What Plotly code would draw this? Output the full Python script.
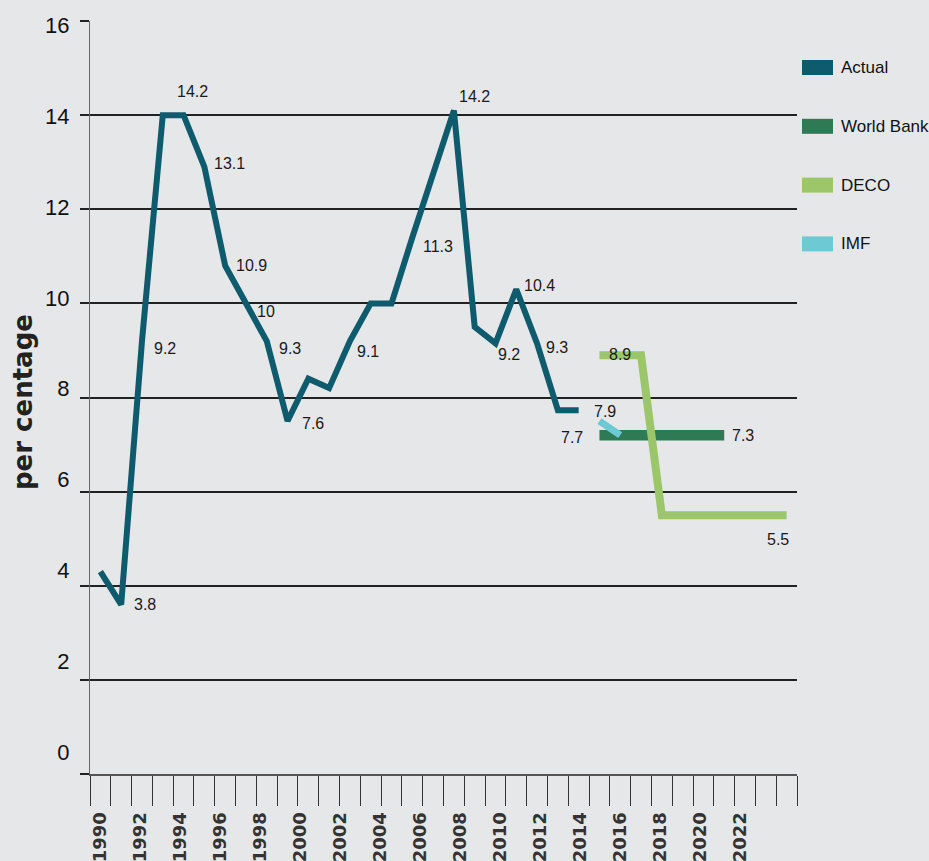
import plotly.graph_objects as go

# ---------------- data ----------------
years_actual = [1990, 1991, 1992, 1993, 1994, 1995, 1996, 1997, 1998, 1999, 2000, 2001,
                2002, 2003, 2004, 2005, 2006, 2007, 2008, 2009, 2010, 2011, 2012, 2013]
actual = [4.3, 3.6, 9.2, 14.0, 14.0, 12.9, 10.8, 10.0, 9.2, 7.5, 8.4, 8.2,
          9.2, 10.0, 10.0, 11.4, 12.8, 14.1, 9.5, 9.15, 10.3, 9.15, 7.73, 7.73]

years_wb = [2014, 2015, 2016, 2017, 2018, 2019, 2020]
world_bank = [7.2, 7.2, 7.2, 7.2, 7.2, 7.2, 7.2]

years_deco = [2014, 2015, 2016, 2017, 2018, 2019, 2020, 2021, 2022, 2023]
deco = [8.9, 8.9, 8.9, 5.5, 5.5, 5.5, 5.5, 5.5, 5.5, 5.5]

years_imf = [2014, 2015]
imf = [7.5, 7.2]

series_names = ["Actual", "World Bank", "DECO", "IMF"]

# printed value labels: (text, series, year)
label_texts = ["3.8", "9.2", "14.2", "13.1", "10.9", "10", "9.3", "7.6", "9.1", "11.3",
               "14.2", "9.2", "10.4", "9.3", "7.7", "7.9", "8.9", "7.3", "5.5"]
label_series = ["Actual"] * 15 + ["IMF", "DECO", "World Bank", "DECO"]
label_years = [1991, 1992, 1994, 1995, 1996, 1997, 1998, 1999, 2002, 2005,
               2007, 2009, 2010, 2011, 2013, 2014, 2015, 2020, 2023]

y_tick_values = [0, 2, 4, 6, 8, 10, 12, 14, 16]
x_label_years = [1990, 1992, 1994, 1996, 1998, 2000, 2002, 2004, 2006, 2008,
                 2010, 2012, 2014, 2016, 2018, 2020, 2022]

# ---------------- styles ----------------
# label offsets in pixels (right, down)
label_dx = [24, 23, 9, 25, 26, 20, 23, 25, 18, 26, 21, 14, 23, 20, -7, 6, 0, 19, -9]
label_dy = [0, 7, -24, -3, 0, 8, 7, 2, 10, 9, -14, 11, -4, 4, 27, -10, -1, 0, 24]

colors = {"Actual": "#0F5B6E", "World Bank": "#2E7A55", "DECO": "#9BC66A", "IMF": "#6DC9D3"}
widths = {"Actual": 6, "World Bank": 10.5, "DECO": 8, "IMF": 7}
BG = "#E6E7E9"
NARROW = "Liberation Sans, Arial, sans-serif"
WIDE_BOLD = "DejaVu Sans, Liberation Sans, sans-serif"

W, H = 929, 861
L, R, T, B = 90, 132, 21, 87
PW, PH = W - L - R, H - T - B


def px_x(p):
    return (p - L) / PW


def px_y(p):
    return (H - B - p) / PH


series_data = {
    "Actual": (years_actual, actual),
    "World Bank": (years_wb, world_bank),
    "DECO": (years_deco, deco),
    "IMF": (years_imf, imf),
}

fig = go.Figure()
for name in series_names:
    xs, ys = series_data[name]
    fig.add_trace(go.Scatter(
        x=xs, y=ys, mode="lines", name=name,
        line=dict(color=colors[name], width=widths[name]),
        showlegend=False, hoverinfo="x+y",
    ))

# dummy trace for overlay label axes
fig.add_trace(go.Scatter(x=[None], y=[None], xaxis="x2", yaxis="y2",
                         showlegend=False, hoverinfo="skip"))

annotations = []
for txt, s, yr, dx, dy in zip(label_texts, label_series, label_years, label_dx, label_dy):
    xs, ys = series_data[s]
    val = ys[xs.index(yr)]
    annotations.append(dict(
        x=yr, y=val, xref="x", yref="y", text=txt, showarrow=False,
        xanchor="center", yanchor="middle", xshift=dx, yshift=-dy,
        font=dict(family=NARROW, size=16, color="#1a1a1a"),
    ))

# y axis title
annotations.append(dict(
    x=px_x(23), y=px_y(402), xref="paper", yref="paper", text="per centage",
    textangle=-90, showarrow=False, xanchor="center", yanchor="middle",
    font=dict(family=WIDE_BOLD, size=26, color="#222222", weight="bold"),
))

# manual legend
shapes = []
for i, name in enumerate(series_names):
    cy = 67.5 + 58.8 * i
    shapes.append(dict(
        type="rect", xref="paper", yref="paper",
        x0=px_x(802), x1=px_x(833), y0=px_y(cy + 7.5), y1=px_y(cy - 7.5),
        fillcolor=colors[name], line=dict(width=0), layer="above",
    ))
    annotations.append(dict(
        x=px_x(839), y=px_y(cy), xref="paper", yref="paper", text=name,
        showarrow=False, xanchor="left", yanchor="middle",
        font=dict(family=NARROW, size=17, color="#111111"),
    ))

fig.update_layout(
    width=W, height=H,
    margin=dict(l=L, r=R, t=T, b=B, pad=0, autoexpand=False),
    paper_bgcolor=BG, plot_bgcolor=BG,
    showlegend=False,
    annotations=annotations,
    shapes=shapes,
    xaxis=dict(
        range=[1989.5, 2023.5], tickmode="array",
        tickvals=[1989.5 + i for i in range(35)],
        ticks="outside", ticklen=30, tickwidth=1, tickcolor="#333333",
        showticklabels=False, showgrid=False, zeroline=False, automargin=False,
        showline=True, linecolor="#555555", linewidth=2,
    ),
    yaxis=dict(
        range=[0, 16], tickmode="array", tickvals=y_tick_values,
        ticks="outside", ticklen=9, tickwidth=1.5, tickcolor="#222222",
        showticklabels=False, showgrid=True, gridcolor="#222222", gridwidth=1.5,
        zeroline=False, showline=True, linecolor="#666666", linewidth=1,
        automargin=False,
    ),
    xaxis2=dict(
        overlaying="x", anchor="y", side="bottom",
        range=[1989.5, 1989.5 + PW / 20.0], tickmode="array",
        tickvals=x_label_years, ticktext=[str(v) for v in x_label_years],
        tickangle=-90, ticks="outside", ticklen=30, tickcolor="rgba(0,0,0,0)",
        tickfont=dict(family=WIDE_BOLD, size=18, color="#333333", weight="bold"),
        showgrid=False, zeroline=False, showline=False, automargin=False,
    ),
    yaxis2=dict(
        overlaying="y", anchor="x", side="left",
        range=[-0.4845, 16.0995], tickmode="array", tickvals=y_tick_values,
        ticks="outside", ticklen=9, tickcolor="rgba(0,0,0,0)",
        ticklabelstandoff=6,
        tickfont=dict(family=NARROW, size=22, color="#111111"),
        showgrid=False, zeroline=False, showline=False, automargin=False,
    ),
)

fig.write_html(
    "out.html",
    config={"displayModeBar": False},
    post_script="document.body.style.margin='0';document.body.style.background='#E6E7E9';",
)
